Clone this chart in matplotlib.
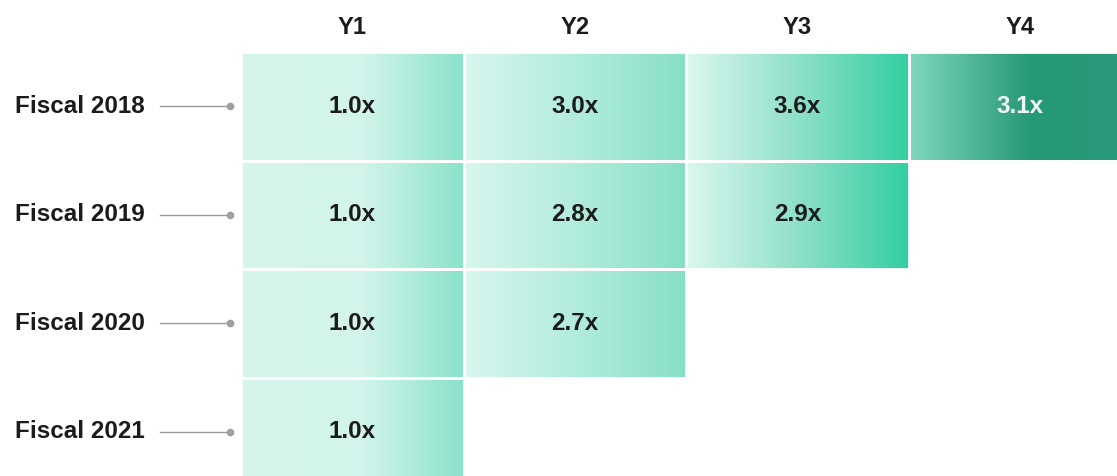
import numpy as np
import matplotlib
matplotlib.use("Agg")
from matplotlib import pyplot as plt
from matplotlib.colors import LinearSegmentedColormap
from matplotlib.patches import Rectangle

plt.rcParams['font.family'] = ['Liberation Sans', 'DejaVu Sans']

# data
cohorts = ["Fiscal 2018", "Fiscal 2019", "Fiscal 2020", "Fiscal 2021"]
years = ["Y1", "Y2", "Y3", "Y4"]
fy2018 = [1.0, 3.0, 3.6, 3.1]
fy2019 = [1.0, 2.8, 2.9]
fy2020 = [1.0, 2.7]
fy2021 = [1.0]
rows = [fy2018, fy2019, fy2020, fy2021]

# gradient per column (left -> right)
col_grads = [
    [(0, '#d6f5ed'), (0.55, '#d2f4eb'), (1, '#8ae2ca')],
    [(0, '#d9f6ef'), (0.5, '#b2ecdc'), (1, '#86dfc6')],
    [(0, '#dcf7f0'), (0.5, '#8fe0c9'), (1, '#33cea2')],
    [(0, '#80d7be'), (0.55, '#259877'), (1, '#2a9b7c')],
]
text_colors = ['#1b1b1b', '#1b1b1b', '#1b1b1b', '#f2faf7']

fig = plt.figure(figsize=(11.17, 4.76), dpi=100)
ax = fig.add_axes([241 / 1117, -10 / 476, 890 / 1117, 434 / 476])

grad = np.linspace(0, 1, 256).reshape(1, -1)

for r, vals in enumerate(rows):
    for c, v in enumerate(vals):
        cmap = LinearSegmentedColormap.from_list('g%d' % c, col_grads[c])
        ax.imshow(grad, cmap=cmap, extent=[c, c + 1, r + 1, r],
                  aspect='auto', interpolation='bilinear')
        ax.add_patch(Rectangle((c, r), 1, 1, fill=False, edgecolor='white', lw=2))
        ax.text(c + 0.5, r + 0.5, '%.1fx' % v, ha='center', va='center',
                fontsize=17.5, fontweight='bold', color=text_colors[c])

for c, name in enumerate(years):
    ax.text(c + 0.5, -0.23, name, ha='center', va='center', fontsize=17,
            fontweight='bold', color='#1b1b1b', clip_on=False)

for r, name in enumerate(cohorts):
    ax.text(-226 / 222.5, r + 0.5, name, ha='left', va='center', fontsize=17.5,
            fontweight='bold', color='#1b1b1b', clip_on=False)
    ax.plot([-81 / 222.5, -13 / 222.5], [r + 0.5, r + 0.5], color='#9a9a9a',
            lw=1, clip_on=False)
    ax.plot([-11 / 222.5], [r + 0.5], 'o', color='#a0a0a0', ms=4.5, clip_on=False)

ax.set_xlim(0, 4)
ax.set_ylim(4, 0)
ax.axis('off')

fig.savefig('out.png', dpi=100)
